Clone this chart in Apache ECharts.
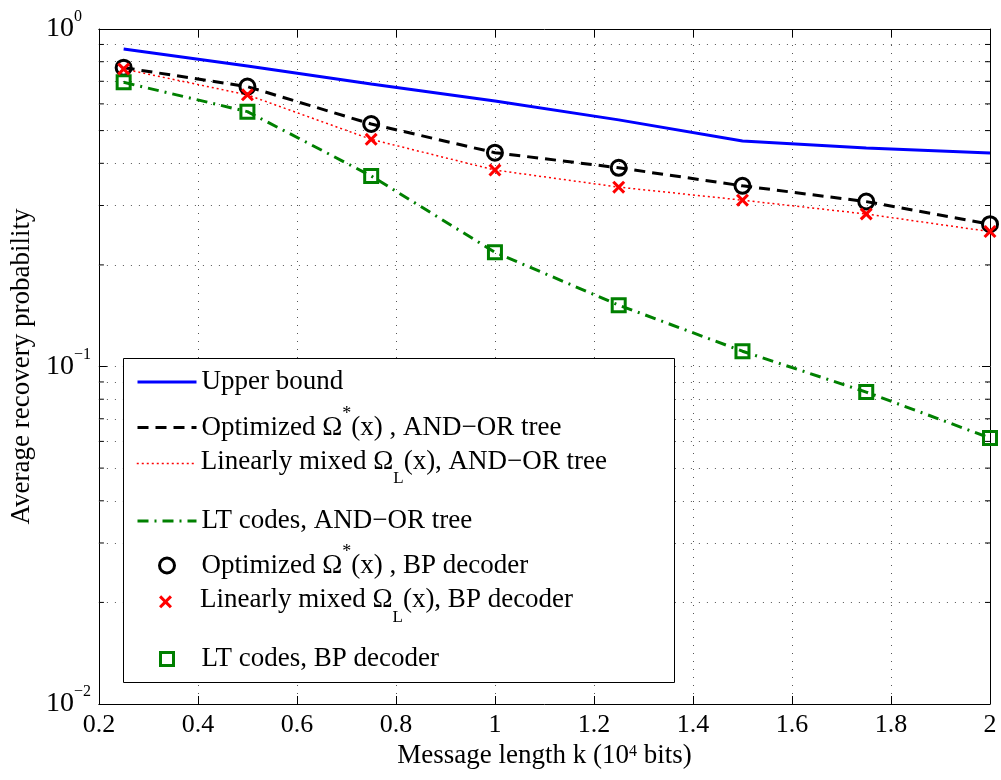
<!DOCTYPE html>
<html>
<head>
<meta charset="utf-8">
<script src="https://cdn.jsdelivr.net/npm/echarts@6/dist/echarts.min.js"></script>
<style>
html,body{margin:0;padding:0;background:#ffffff;}
#chart{width:1001px;height:780px;}
</style>
</head>
<body>
<div id="chart"></div>
<script>
// ---------------- data ----------------
const xValues = [0.25, 0.5, 0.75, 1.0, 1.25, 1.5, 1.75, 2.0];
const upperBound = [0.872, 0.777, 0.687, 0.612, 0.538, 0.466, 0.444, 0.429];
const optimizedAndOr = [0.768, 0.675, 0.523, 0.430, 0.388, 0.343, 0.308, 0.264];
const linearAndOr = [0.761, 0.638, 0.471, 0.382, 0.340, 0.311, 0.283, 0.251];
const ltAndOr = [0.695, 0.569, 0.367, 0.218, 0.152, 0.111, 0.084, 0.0614];
const optimizedBP = [0.768, 0.675, 0.523, 0.430, 0.388, 0.343, 0.308, 0.264];
const linearBP = [0.761, 0.638, 0.471, 0.382, 0.340, 0.311, 0.283, 0.251];
const ltBP = [0.695, 0.569, 0.367, 0.218, 0.152, 0.111, 0.084, 0.0614];
const minorYValues = [0.02, 0.03, 0.04, 0.05, 0.06, 0.07, 0.08, 0.09,
                      0.2, 0.3, 0.4, 0.5, 0.6, 0.7, 0.8, 0.9];
const xMin = 0.2, xMax = 2.0, xStep = 0.2;
const yMin = 0.01, yMax = 1;

const seriesNames = [
  'Upper bound',
  'Optimized Ω*(x) , AND−OR tree',
  'Linearly mixed ΩL(x), AND−OR tree',
  'LT codes, AND−OR tree',
  'Optimized Ω*(x) , BP decoder',
  'Linearly mixed ΩL(x), BP decoder',
  'LT codes, BP decoder'
];
const legendRich = {};
legendRich[seriesNames[0]] = 'Upper bound';
legendRich[seriesNames[1]] = '{m|Optimized Ω}{sup|*}{m|(x) , AND−OR tree}';
legendRich[seriesNames[2]] = '{mt|Linearly mixed Ω}{sub|L}{mt|(x), AND−OR tree}';
legendRich[seriesNames[3]] = 'LT codes, AND−OR tree';
legendRich[seriesNames[4]] = '{m|Optimized Ω}{sup|*}{m|(x) , BP decoder}';
legendRich[seriesNames[5]] = '{mt|Linearly mixed Ω}{sub|L}{mt|(x), BP decoder}';
legendRich[seriesNames[6]] = 'LT codes, BP decoder';

// ---------------- styling ----------------
const FONT = '"Liberation Serif","Times New Roman",Times,serif';
function pairs(arr) { return xValues.map((x, i) => [x, arr[i]]); }
const X_PATH = 'path://M0,2L2,0L6,4L10,0L12,2L8,6L12,10L10,12L6,8L2,12L0,10L4,6Z';

const RICH = {
  m:   {fontFamily: FONT, fontSize: 27, lineHeight: 30, color: '#000', verticalAlign: 'middle'},
  sup: {fontFamily: FONT, fontSize: 18, lineHeight: 18, color: '#000', verticalAlign: 'middle', padding: [0, 0, 26, 0]},
  mt:  {fontFamily: FONT, fontSize: 27, lineHeight: 30, color: '#000', verticalAlign: 'top'},
  sub: {fontFamily: FONT, fontSize: 17, lineHeight: 17, color: '#000', verticalAlign: 'top', padding: [22, 0, 14, 0]}
};

const TEXT_X = 200;        // where legend text begins
const ICON_CX = 165.5;     // centre of the legend icon column
const LINE_ICON_W = 59;

const legendRows = [
  {idx: 0, top: 367,   ih: 14, line: true},
  {idx: 1, top: 405.5, ih: 14, line: true},
  {idx: 2, top: 448.5, ih: 14, line: true},
  {idx: 3, top: 506,   ih: 14, line: true},
  {idx: 4, top: 543.5, ih: 15, line: false},
  {idx: 5, top: 586.8, ih: 13, line: false},
  {idx: 6, top: 644,   ih: 13, line: false}
];

function legendFor(r) {
  const iw = r.line ? LINE_ICON_W : r.ih;
  const left = ICON_CX - iw / 2;
  const padLeft = Math.max(0, TEXT_X - (left + iw + 5));
  return {
    data: [seriesNames[r.idx]],
    orient: 'vertical',
    left: left, top: r.top, padding: 0,
    itemWidth: iw, itemHeight: r.ih, itemGap: 0,
    selectedMode: false,
    z: 11,
    textStyle: {fontFamily: FONT, fontSize: 27, lineHeight: 30, color: '#000', rich: RICH,
                padding: [0, 0, 0, padLeft]},
    lineStyle: {width: 'inherit'},
    itemStyle: r.line ? {opacity: 0} : {borderWidth: 'inherit', opacity: 1},
    formatter: function (name) { return legendRich[name]; }
  };
}

const dotted = {type: [1, 7], color: '#555', width: 1};

const chart = echarts.init(document.getElementById('chart'), null, {renderer: 'canvas'});

const option = {
  animation: false,
  backgroundColor: '#ffffff',
  grid: {left: 98, right: 11, top: 29, bottom: 76, containLabel: false},
  xAxis: [
    {
      type: 'value', min: xMin, max: xMax, interval: xStep, position: 'bottom',
      name: '{n|Message length k (10}{s|4}{n| bits)}',
      nameLocation: 'middle', nameGap: 36,
      nameTextStyle: {
        rich: {
          n: {fontFamily: FONT, fontSize: 27, lineHeight: 30, color: '#000', verticalAlign: 'middle'},
          s: {fontFamily: FONT, fontSize: 16, lineHeight: 16, color: '#000', verticalAlign: 'middle', padding: [0, 0, 9, 0]}
        }
      },
      axisLine: {show: true, onZero: false, lineStyle: {color: '#000', width: 1}},
      axisTick: {show: true, inside: true, length: 8, lineStyle: {color: '#000'}},
      axisLabel: {show: true, margin: 8, fontFamily: FONT, fontSize: 26, color: '#000'},
      splitLine: {show: true, lineStyle: dotted}
    },
    {
      type: 'value', min: xMin, max: xMax, interval: xStep, position: 'top',
      axisLine: {show: true, onZero: false, lineStyle: {color: '#000', width: 1}},
      axisTick: {show: true, inside: true, length: 8, lineStyle: {color: '#000'}},
      axisLabel: {show: false},
      splitLine: {show: false}
    }
  ],
  yAxis: [
    {
      type: 'log', logBase: 10, min: yMin, max: yMax, position: 'left',
      name: 'Average recovery probability',
      nameLocation: 'middle', nameGap: 63,
      nameTextStyle: {fontFamily: FONT, fontSize: 27, color: '#000'},
      axisLine: {show: true, onZero: false, lineStyle: {color: '#000', width: 1}},
      axisTick: {show: true, inside: true, length: 8, lineStyle: {color: '#000'}},
      axisLabel: {
        show: true, margin: 53, align: 'left',
        formatter: function (v) {
          const e = Math.round(Math.log10(v));
          const es = e < 0 ? '−' + (-e) : String(e);
          return '{b|10}{s|' + es + '}';
        },
        rich: {
          b: {fontFamily: FONT, fontSize: 28, lineHeight: 30, color: '#000', verticalAlign: 'middle'},
          s: {fontFamily: FONT, fontSize: 16, lineHeight: 16, color: '#000', verticalAlign: 'middle', padding: [0, 0, 24, 0]}
        }
      },
      splitLine: {show: true, lineStyle: dotted}
    },
    {
      type: 'log', logBase: 10, min: yMin, max: yMax, position: 'right',
      axisLine: {show: true, onZero: false, lineStyle: {color: '#000', width: 1}},
      axisTick: {show: true, inside: true, length: 8, lineStyle: {color: '#000'}},
      axisLabel: {show: false},
      splitLine: {show: false}
    }
  ],
  legend: legendRows.map(legendFor),
  graphic: [
    {
      type: 'rect', z: 10, silent: true,
      shape: {x: 123.5, y: 358.5, width: 551, height: 324},
      style: {fill: '#ffffff', stroke: '#000000', lineWidth: 1}
    }
  ],
  series: [
    {
      name: '_minorLeft', type: 'scatter', xAxisIndex: 0, yAxisIndex: 0,
      data: minorYValues.map(v => [xMin, v]),
      symbol: 'rect', symbolSize: [5, 1], symbolOffset: [2.5, 0],
      itemStyle: {color: '#000', opacity: 1}, silent: true, clip: false, z: 4,
      markLine: {
        silent: true, symbol: ['none', 'none'], z: 1, animation: false,
        label: {show: false},
        lineStyle: dotted,
        emphasis: {disabled: true},
        data: minorYValues.map(v => ({yAxis: v}))
      }
    },
    {
      name: '_minorRight', type: 'scatter', xAxisIndex: 0, yAxisIndex: 0,
      data: minorYValues.map(v => [xMax, v]),
      symbol: 'rect', symbolSize: [5, 1], symbolOffset: [-2.5, 0],
      itemStyle: {color: '#000', opacity: 1}, silent: true, clip: false, z: 4
    },
    {
      name: seriesNames[0], type: 'line', data: pairs(upperBound),
      symbol: 'none', lineStyle: {color: '#0000ff', width: 3},
      itemStyle: {color: '#0000ff'}, z: 3, emphasis: {disabled: true}
    },
    {
      name: seriesNames[1], type: 'line', data: pairs(optimizedAndOr),
      symbol: 'none', lineStyle: {color: '#000000', width: 3, type: [11, 7]},
      itemStyle: {color: '#000000'}, z: 3, emphasis: {disabled: true}
    },
    {
      name: seriesNames[2], type: 'line', data: pairs(linearAndOr),
      symbol: 'none', lineStyle: {color: '#ff0000', width: 1.5, type: [2, 3]},
      itemStyle: {color: '#ff0000'}, z: 3, emphasis: {disabled: true}
    },
    {
      name: seriesNames[3], type: 'line', data: pairs(ltAndOr),
      symbol: 'none', lineStyle: {color: '#008000', width: 3, type: [11, 6, 2, 6]},
      itemStyle: {color: '#008000'}, z: 3, emphasis: {disabled: true}
    },
    {
      name: seriesNames[4], type: 'scatter', data: pairs(optimizedBP),
      symbol: 'circle', symbolSize: 15,
      itemStyle: {color: 'rgba(0,0,0,0)', borderColor: '#000000', borderWidth: 3, opacity: 1},
      z: 5, emphasis: {disabled: true}
    },
    {
      name: seriesNames[6], type: 'scatter', data: pairs(ltBP),
      symbol: 'rect', symbolSize: 13,
      itemStyle: {color: 'rgba(0,0,0,0)', borderColor: '#008000', borderWidth: 3, opacity: 1},
      z: 5, emphasis: {disabled: true}
    },
    {
      name: seriesNames[5], type: 'scatter', data: pairs(linearBP),
      symbol: X_PATH, symbolSize: 13,
      itemStyle: {color: '#ff0000', opacity: 1},
      z: 6, emphasis: {disabled: true}
    }
  ]
};
chart.setOption(option);
</script>
</body>
</html>
